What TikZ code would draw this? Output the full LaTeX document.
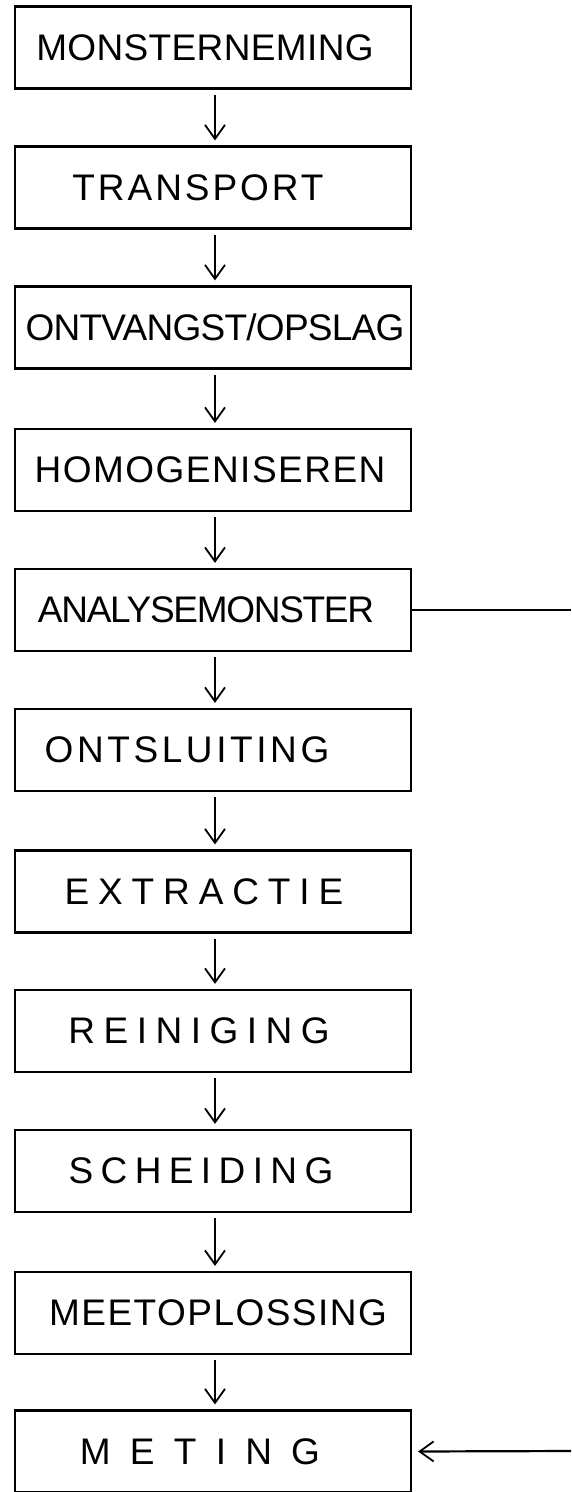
\documentclass[tikz,border=0pt]{standalone}
\usepackage{fontspec}
\setmainfont{Liberation Sans}
\usetikzlibrary{arrows.meta}

\begin{document}
\begin{tikzpicture}[x=1pt, y=-1pt, line width=2.2pt,
    stap/.style={draw, minimum width=396pt, minimum height=82pt, inner sep=0pt},
    pijl/.style={-{Straight Barb[length=14pt,width=20pt,line width=1.8pt]},
                 shorten <=5pt, shorten >=5pt}]
  \useasboundingbox (0,0) rectangle (571,1492);
  % process steps
  \foreach \naam/\y/\sp/\dx/\tekst in {m1/47.5/1/-8/MONSTERNEMING,
        m2/187.5/8/-15/TRANSPORT, m3/327.5/-2/2/{ONTVANGST/OPSLAG},
        m4/470/4/-3/HOMOGENISEREN, m5/610/-3.5/-7/ANALYSEMONSTER,
        m6/750/9.7/-26/ONTSLUITING, m7/891.5/24/-9/EXTRACTIE,
        m8/1031/23/-14/REINIGING, m9/1171/20/-12/SCHEIDING,
        m10/1313/4/5/MEETOPLOSSING, m11/1451.5/52/-13/METING}{
    \node[stap, font={\fontsize{37}{40}\selectfont\addfontfeature{LetterSpace=\sp}}]
      (\naam) at (213,\y) {\hspace*{\dx pt}\tekst\hspace*{-\dx pt}};
  }
  % arrows between the steps
  \foreach \van/\naar in {m1/m2, m2/m3, m3/m4, m4/m5, m5/m6,
                          m6/m7, m7/m8, m8/m9, m9/m10, m10/m11}{
    \draw[pijl] ([xshift=2pt]\van.south) -- ([xshift=2pt]\naar.north);
  }
  % side branch
  \coordinate (uit) at (571,610);
  \coordinate (terug) at (571,1451);
  \draw (m5.east) -- (uit);
  \draw[pijl, shorten <=0pt, shorten >=6pt] (terug) -- (m11.east);
\end{tikzpicture}
\end{document}
